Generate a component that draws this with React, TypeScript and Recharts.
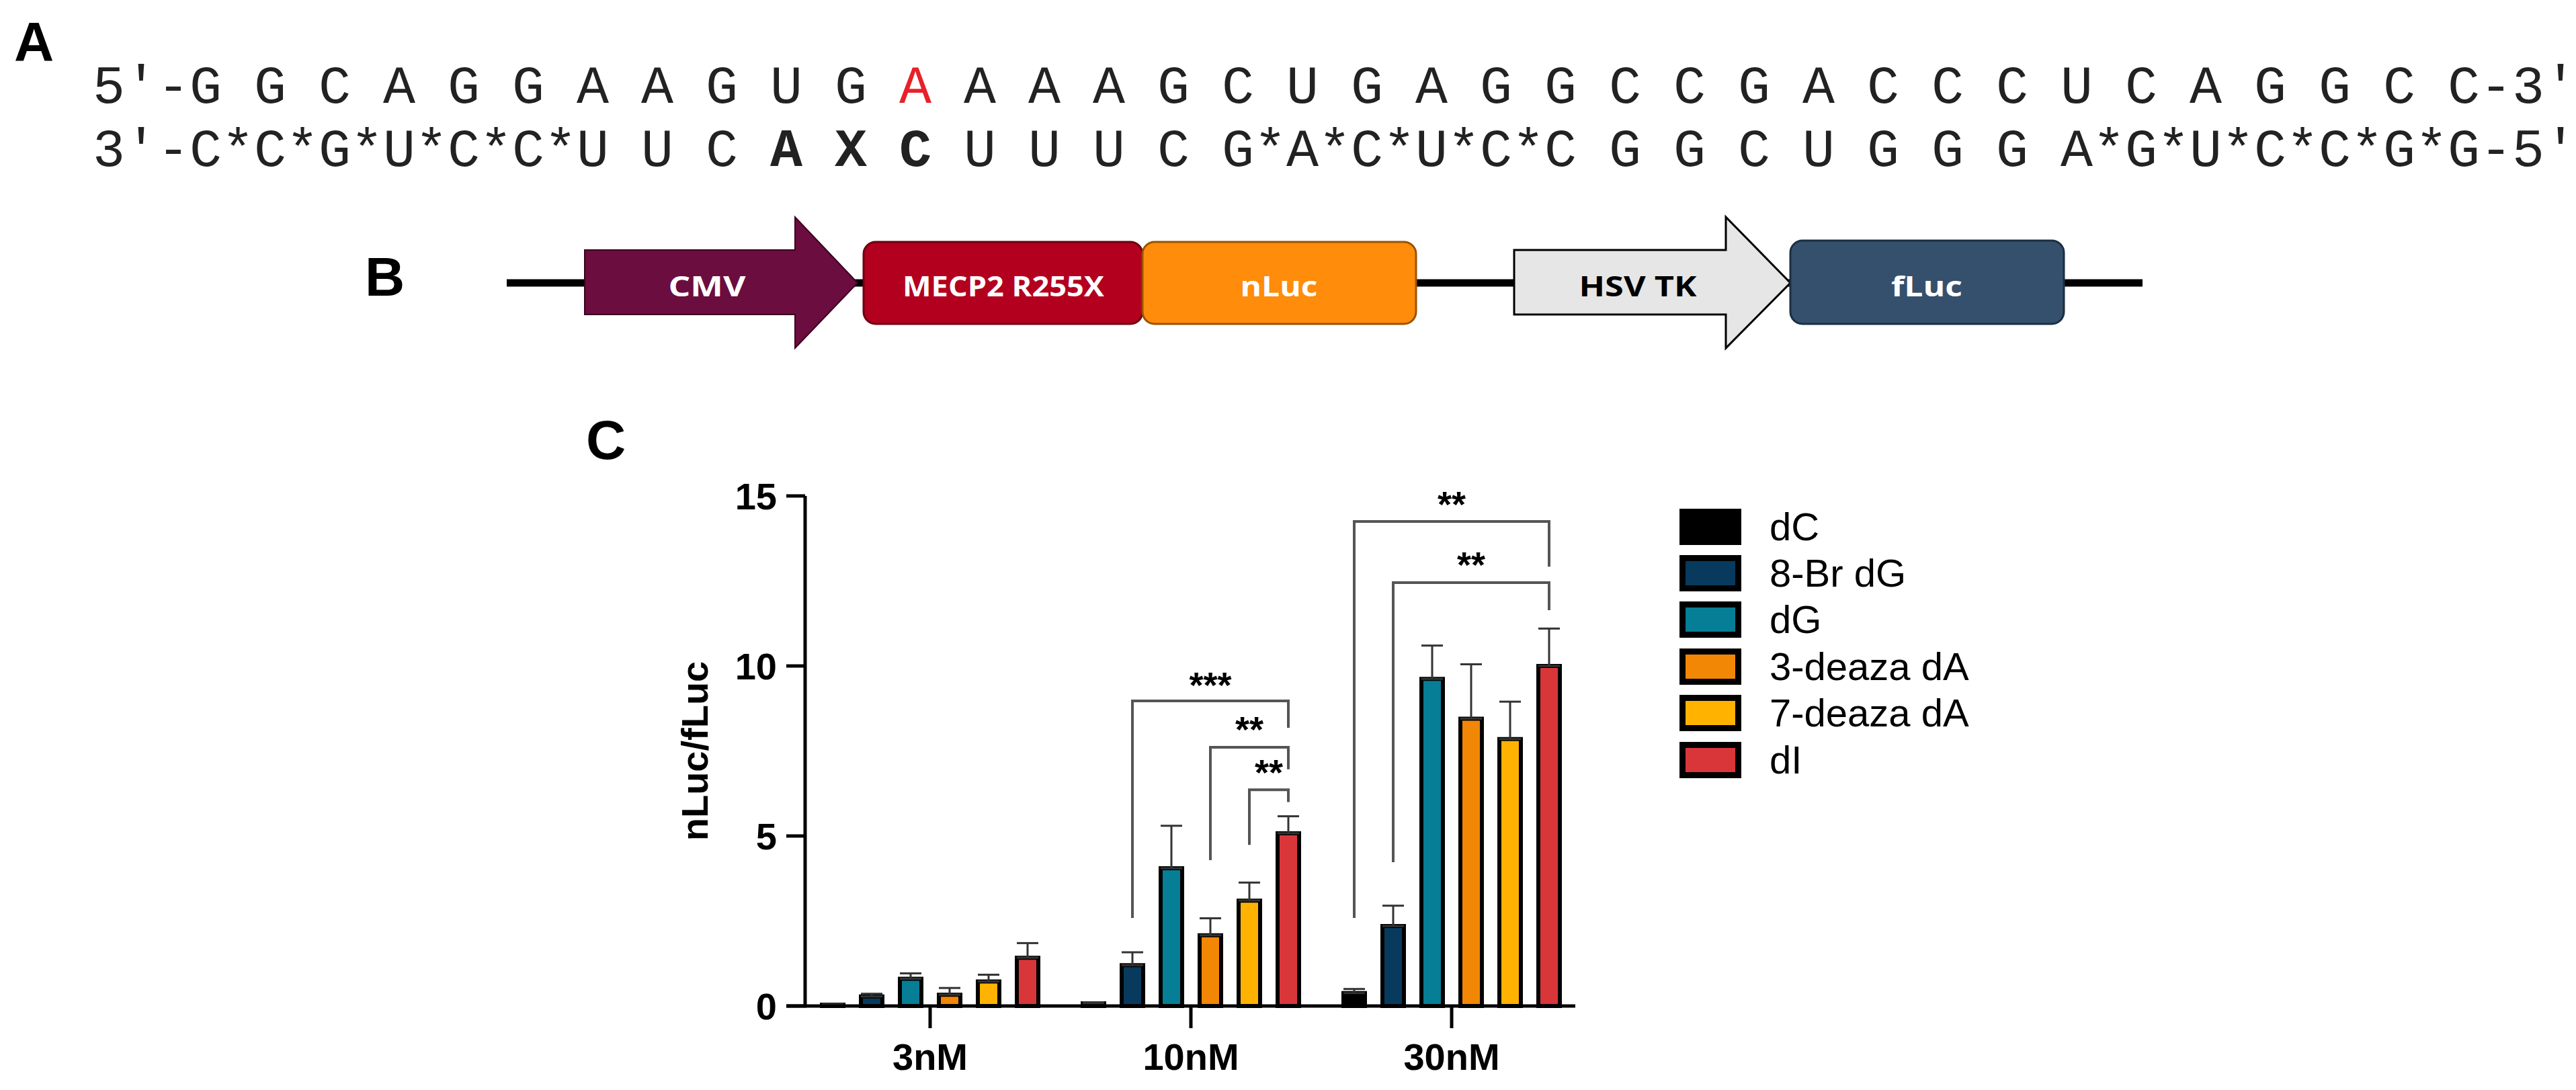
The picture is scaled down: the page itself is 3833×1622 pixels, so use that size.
import React from 'react';
import { BarChart, Bar, XAxis, YAxis, ErrorBar, Legend, Rectangle } from 'recharts';

// ---------- Panel C data ----------
const CATEGORIES = ['3nM', '10nM', '30nM'];
const SERIES = ['dC', '8-Br dG', 'dG', '3-deaza dA', '7-deaza dA', 'dI'];
const COLORS = ['#000000', '#083A5E', '#067E96', '#F28705', '#FFB300', '#D9363A'];

const DC_MEAN = [0.04, 0.08, 0.38];
const DC_TOP = [0.06, 0.11, 0.5];
const BRDG_MEAN = [0.28, 1.2, 2.35];
const BRDG_TOP = [0.36, 1.58, 2.95];
const DG_MEAN = [0.8, 4.05, 9.62];
const DG_TOP = [0.96, 5.3, 10.6];
const DEAZA3_MEAN = [0.33, 2.08, 8.45];
const DEAZA3_TOP = [0.53, 2.58, 10.05];
const DEAZA7_MEAN = [0.72, 3.1, 7.85];
const DEAZA7_TOP = [0.92, 3.63, 8.95];
const DI_MEAN = [1.42, 5.08, 10.0];
const DI_TOP = [1.85, 5.58, 11.1];

const Y_TICKS = [0, 5, 10, 15];

// significance brackets (series indices within a group, y values in data units)
const BRACKET_GROUP = ['10nM', '10nM', '10nM', '30nM', '30nM'];
const BRACKET_FROM = [1, 3, 4, 0, 1];
const BRACKET_TO = [5, 5, 5, 5, 5];
const BRACKET_TOP = [8.97, 7.61, 6.36, 14.25, 12.45];
const BRACKET_LEFT_END = [2.59, 4.29, 4.74, 2.59, 4.23];
const BRACKET_RIGHT_END = [8.18, 6.96, 6.0, 12.92, 11.64];
const BRACKET_LABEL = ['***', '**', '**', '**', '**'];
const BRACKET_LABEL_Y = [9.68, 8.38, 7.11, 15.0, 13.22];

// ---------- Panel A text ----------
const SEQ_SENSE = "5′-G G C A G G A A G U G A A A A G C U G A G G C C G A C C C U C A G G C C-3′";
const SEQ_ANTISENSE = "3′-C*C*G*U*C*C*U U C A X C U U U C G*A*C*U*C*C G G C U G G G A*G*U*C*C*G*G-5′";
const RED_POSITIONS = [25];
const BOLD_POSITIONS = [21, 23, 25];

// ---------- Panel B construct ----------
const CONSTRUCT_LABELS = ['CMV', 'MECP2 R255X', 'nLuc', 'HSV TK', 'fLuc'];

const MEANS = [DC_MEAN, BRDG_MEAN, DG_MEAN, DEAZA3_MEAN, DEAZA7_MEAN, DI_MEAN];
const TOPS = [DC_TOP, BRDG_TOP, DG_TOP, DEAZA3_TOP, DEAZA7_TOP, DI_TOP];

const data = CATEGORIES.map((cat, i) => {
  const row: any = { cat };
  MEANS.forEach((m, j) => {
    row[`s${j}`] = m[i];
    row[`e${j}`] = [0, TOPS[j][i] - m[i]];
  });
  return row;
});

const FONT = '"Liberation Sans", Arial, sans-serif';
const BAR_SIZE = 32;
const BAR_GAP = 26;

const DIShape = (props: any) => {
  const { x, y, width, height, payload } = props;
  const v = payload.s5;
  const base = y + height;
  const k = height / v;
  const cx = x + width / 2;
  const slot = width + BAR_GAP;
  const idx = BRACKET_GROUP.map((g, i) => (g === payload.cat ? i : -1)).filter((i) => i >= 0);
  return (
    <g>
      <Rectangle {...props} />
      {idx.map((b) => {
        const xl = cx - (5 - BRACKET_FROM[b]) * slot;
        const xr = cx - (5 - BRACKET_TO[b]) * slot;
        const yt = base - BRACKET_TOP[b] * k;
        const yl = base - BRACKET_LEFT_END[b] * k;
        const yr = base - BRACKET_RIGHT_END[b] * k;
        const ly = base - BRACKET_LABEL_Y[b] * k + 31;
        return (
          <g key={b}>
            <path d={`M${xl},${yl} V${yt} H${xr} V${yr}`} fill="none" stroke="#555" strokeWidth={4} />
            <text x={(xl + xr) / 2} y={ly} textAnchor="middle" fontFamily={FONT} fontWeight={700} fontSize={54} fill="#000">
              {BRACKET_LABEL[b]}
            </text>
          </g>
        );
      })}
    </g>
  );
};

const YLabel = (props: any) => {
  const vb = props.viewBox || { x: 998, y: 738, width: 200, height: 759 };
  const cx = vb.x + vb.width - 165;
  const cy = vb.y + vb.height / 2;
  return (
    <text x={cx} y={cy} transform={`rotate(-90 ${cx} ${cy})`} textAnchor="middle" dominantBaseline="central"
      fontFamily={FONT} fontWeight={700} fontSize={56} fill="#000">nLuc/fLuc</text>
  );
};

const renderLegend = (props: any) => {
  const items = [...(props.payload || [])].sort(
    (a: any, b: any) => SERIES.indexOf(a.value) - SERIES.indexOf(b.value)
  );
  return (
    <div>
      {items.map((p: any) => {
        const j = SERIES.indexOf(p.value);
        return (
          <div key={p.value} style={{ display: 'flex', alignItems: 'center', height: 69.4 }}>
            <div style={{ width: 92, height: 54, boxSizing: 'border-box', border: '9px solid #000', background: COLORS[j] }} />
            <span style={{ marginLeft: 42, fontSize: 58, fontFamily: FONT, color: '#000', lineHeight: 1 }}>{p.value}</span>
          </div>
        );
      })}
    </div>
  );
};

const SeqLine = ({ text, baseline, red, bold }: any) => (
  <g>
    {text.split('').map((ch: string, i: number) =>
      ch === ' ' ? null : (
        <text key={i} x={162 + 48 * i} y={baseline} textAnchor="middle" fontFamily='"Liberation Mono", monospace'
          fontSize={80} fontWeight={bold.includes(i) ? 700 : 400} fill={red.includes(i) ? '#E8202A' : '#222'}>
          {ch}
        </text>
      )
    )}
  </g>
);

const Overlay = () => (
  <svg width={3833} height={1622} style={{ position: 'absolute', left: 0, top: 0, pointerEvents: 'none' }}>
    {/* panel labels */}
    <text x={21} y={90} fontFamily={FONT} fontWeight={700} fontSize={82} fill="#000">A</text>
    <text x={543} y={440} fontFamily={FONT} fontWeight={700} fontSize={82} fill="#000">B</text>
    <text x={872} y={683} fontFamily={FONT} fontWeight={700} fontSize={82} fill="#000">C</text>

    {/* panel A */}
    <SeqLine text={SEQ_SENSE} baseline={153} red={RED_POSITIONS} bold={[]} />
    <SeqLine text={SEQ_ANTISENSE} baseline={247} red={[]} bold={BOLD_POSITIONS} />

    {/* panel B */}
    <line x1={754} y1={421} x2={3188} y2={421} stroke="#000" strokeWidth={11} />
    <polygon points="870,372 1183,372 1183,323 1276,421 1183,518 1183,468 870,468" fill="#6B0D3E" stroke="#3a0020" strokeWidth={2} />
    <rect x={1285} y={360} width={415} height={122} rx={18} fill="#B3001E" stroke="#6d0012" strokeWidth={3} />
    <rect x={1700} y={360} width={407} height={122} rx={18} fill="#FF8C0A" stroke="#9a5200" strokeWidth={3} />
    <polygon points="2253,372 2568,372 2568,323 2664,421 2568,518 2568,468 2253,468" fill="#E6E6E6" stroke="#000" strokeWidth={3} />
    <rect x={2664} y={358} width={407} height={124} rx={18} fill="#35506C" stroke="#1c2e40" strokeWidth={3} />
    {[
      [1052, 115, '#fff'],
      [1493, 300, '#fff'],
      [1903, 115, '#fff'],
      [2437, 175, '#000'],
      [2867, 106, '#fff'],
    ].map((t: any, i) => (
      <text key={i} x={t[0]} y={441} textAnchor="middle" fontFamily='"Open Sans", sans-serif' fontWeight={700}
        fontSize={42} fill={t[2]} textLength={t[1]} lengthAdjust="spacingAndGlyphs">
        {CONSTRUCT_LABELS[i]}
      </text>
    ))}

    {/* x-axis line continues slightly left of the y-axis (GraphPad style) */}
    <line x1={1170} y1={1497} x2={1200} y2={1497} stroke="#000" strokeWidth={5} />
  </svg>
);

export default function App() {
  return (
    <div style={{ position: 'absolute', left: 0, top: 0, width: 3833, height: 1622, background: '#fff', overflow: 'hidden' }}>
      <div style={{ position: 'absolute', left: 0, top: 0 }}>
        <BarChart width={3833} height={1622} data={data} margin={{ top: 738, right: 1489, bottom: 25, left: 998 }}
          barGap={BAR_GAP} barSize={BAR_SIZE}>
          <XAxis dataKey="cat" height={100} padding={{ left: -8, right: -10 }} interval={0}
            tickSize={33} tickMargin={22}
            axisLine={{ stroke: '#000', strokeWidth: 5 }} tickLine={{ stroke: '#000', strokeWidth: 5 }}
            tick={{ fontSize: 56, fontWeight: 700, fill: '#000', fontFamily: FONT }} />
          <YAxis width={200} domain={[0, 15]} ticks={Y_TICKS} interval={0} tickSize={28} tickMargin={14}
            axisLine={{ stroke: '#000', strokeWidth: 5 }} tickLine={{ stroke: '#000', strokeWidth: 5 }}
            tick={{ fontSize: 56, fontWeight: 700, fill: '#000', fontFamily: FONT }}
            label={<YLabel />} />
          <Legend layout="vertical" align="center" verticalAlign="middle" content={renderLegend}
            wrapperStyle={{ left: 2499, top: 749, width: 600, height: 420 }} />
          {SERIES.map((s, j) => (
            <Bar key={s} dataKey={`s${j}`} name={s} fill={COLORS[j]} stroke="#000" strokeWidth={6}
              isAnimationActive={false} shape={j === 5 ? DIShape : undefined}>
              <ErrorBar dataKey={`e${j}`} width={16} strokeWidth={3} stroke="#333" direction="y" isAnimationActive={false} />
            </Bar>
          ))}
        </BarChart>
      </div>
      <Overlay />
    </div>
  );
}
